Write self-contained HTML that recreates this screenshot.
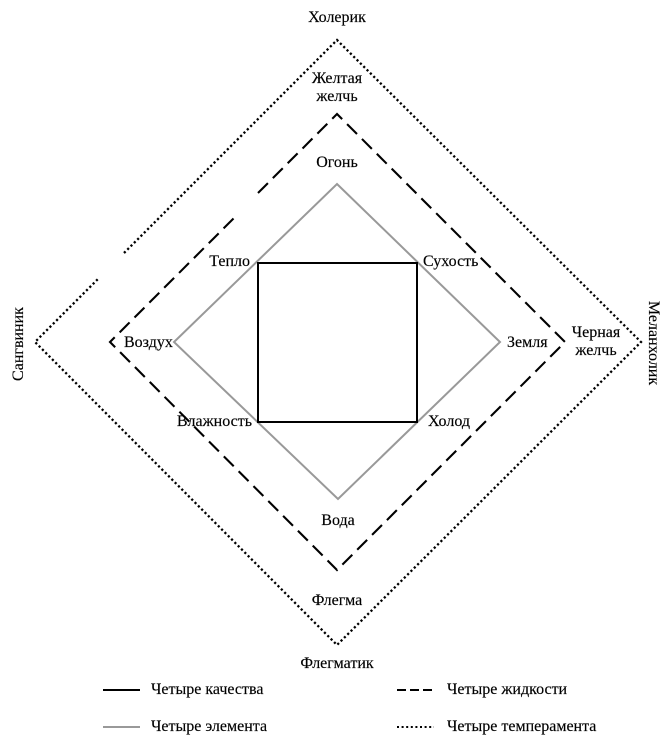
<!DOCTYPE html>
<html>
<head>
<meta charset="utf-8">
<style>
  html,body{margin:0;padding:0;background:#fff;}
  svg{display:block;}
  text{font-family:"Liberation Serif","Noto Serif CJK SC",serif;font-size:16px;fill:#000;stroke:#000;stroke-width:0.15px;}
</style>
</head>
<body>
<svg width="672" height="747" viewBox="0 0 672 747" xmlns="http://www.w3.org/2000/svg">
  <!-- Four temperaments (dotted) -->
  <g fill="none" stroke="#000" stroke-width="2.3" stroke-dasharray="2.2 2.5">
    <polyline points="124,253 337,40 641,342 337,645 35,342 99,278"/>
  </g>
  <!-- Four humours (dashed) -->
  <g fill="none" stroke="#000" stroke-width="2.1" stroke-dasharray="14 7">
    <polyline points="258,193 337,114 565,342 337,570 110,342 234,218"/>
  </g>
  <!-- Four elements (gray) -->
  <polygon points="337,184 500,342 338,499 174,342" fill="none" stroke="#999" stroke-width="2"/>
  <!-- Four qualities (black square) -->
  <rect x="258" y="263" width="159" height="159" fill="none" stroke="#000" stroke-width="2"/>

  <!-- Labels -->
  <text x="337" y="22" text-anchor="middle">Холерик</text>
  <text x="337" y="83" text-anchor="middle">Желтая</text>
  <text x="337" y="101" text-anchor="middle">желчь</text>
  <text x="337" y="167" text-anchor="middle">Огонь</text>
  <text x="250" y="266" text-anchor="end">Тепло</text>
  <text x="423" y="266">Сухость</text>
  <text x="124" y="347">Воздух</text>
  <text x="507" y="347">Земля</text>
  <text x="596" y="337" text-anchor="middle">Черная</text>
  <text x="596" y="355" text-anchor="middle">желчь</text>
  <text x="252" y="426" text-anchor="end">Влажность</text>
  <text x="428" y="426">Холод</text>
  <text x="338" y="525" text-anchor="middle">Вода</text>
  <text x="337" y="605" text-anchor="middle">Флегма</text>
  <text x="337" y="668" text-anchor="middle">Флегматик</text>
  <text x="0" y="0" text-anchor="middle" transform="translate(23,344) rotate(-90)">Сангвиник</text>
  <text x="0" y="0" text-anchor="middle" transform="translate(649,343) rotate(90)">Меланхолик</text>

  <!-- Legend -->
  <line x1="103" y1="690" x2="140" y2="690" stroke="#000" stroke-width="2"/>
  <text x="151" y="694">Четыре качества</text>
  <line x1="103" y1="727" x2="140" y2="727" stroke="#999" stroke-width="2"/>
  <text x="151" y="731">Четыре элемента</text>
  <line x1="397" y1="690" x2="434" y2="690" stroke="#000" stroke-width="2" stroke-dasharray="9 4"/>
  <text x="447" y="694">Четыре жидкости</text>
  <line x1="397" y1="727" x2="434" y2="727" stroke="#000" stroke-width="2" stroke-dasharray="2 2.6"/>
  <text x="447" y="731">Четыре темперамента</text>
</svg>
</body>
</html>
